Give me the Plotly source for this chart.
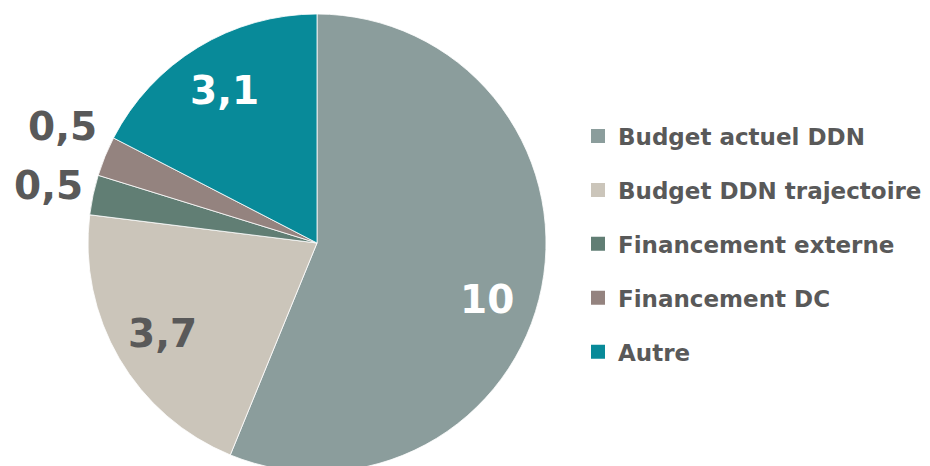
import math
import plotly.graph_objects as go

labels = ["Budget actuel DDN", "Budget DDN trajectoire", "Financement externe", "Financement DC", "Autre"]
values = [10, 3.7, 0.5, 0.5, 3.1]
colors = ["#8B9D9C", "#CBC5BA", "#617E74", "#94837F", "#088A99"]
text_colors = ["#FFFFFF", "#595959", "#595959", "#595959", "#FFFFFF"]
outside = [False, False, True, True, False]
# manual nudges (px) of a few labels, like dragged labels in the original
nudge = {"Budget actuel DDN": (-5, 22), "Financement DC": (0, -12)}

FONT = "DejaVu Sans"
GREY = "#595959"
W, H = 930, 466

# pie geometry (figure pixels): centre and radius
cx, cy, r = 309, 235, 229

fig = go.Figure()
fig.add_trace(go.Pie(
    labels=labels, values=values, sort=False, direction="clockwise", rotation=0,
    marker=dict(colors=colors, line=dict(color="#FFFFFF", width=0.8)),
    textinfo="none", showlegend=False, hoverinfo="label+value",
    domain=dict(x=[(cx - r) / W, (cx + r) / W], y=[(H - cy - r) / H, (H - cy + r) / H]),
))

# data labels, placed along each slice's mid angle
total = sum(values)
cum = 0
for lab, v, col, out in zip(labels, values, text_colors, outside):
    ang = math.radians((cum + v / 2) / total * 360)
    cum += v
    k = 1.2 if out else 0.78
    dx, dy = nudge.get(lab, (0, 0))
    px_ = cx + k * r * math.sin(ang) + dx
    py_ = cy - k * r * math.cos(ang) + dy
    txt = f"{v:g}".replace(".", ",")
    fig.add_annotation(
        x=px_ / W, y=1 - py_ / H, xref="paper", yref="paper", showarrow=False,
        text=f"<b>{txt}</b>", font=dict(family=FONT, size=39, color=col),
        xanchor="center", yanchor="middle",
    )

# legend built from the same labels/colors, one group each to space the entries
for lab, col in zip(labels, colors):
    fig.add_trace(go.Scatter(
        x=[None], y=[None], mode="markers", name=f"<b>{lab}</b>", legendgroup=lab,
        marker=dict(symbol="square", size=14, color=col),
    ))

fig.update_layout(
    width=W, height=H,
    paper_bgcolor="white", plot_bgcolor="white",
    margin=dict(l=0, r=0, t=0, b=0),
    xaxis=dict(visible=False), yaxis=dict(visible=False),
    legend=dict(
        x=570 / W, xanchor="left", y=0.4933, yanchor="middle",
        font=dict(family=FONT, size=23, color=GREY),
        tracegroupgap=21, itemwidth=30,
    ),
)

fig.write_html("out.html")
